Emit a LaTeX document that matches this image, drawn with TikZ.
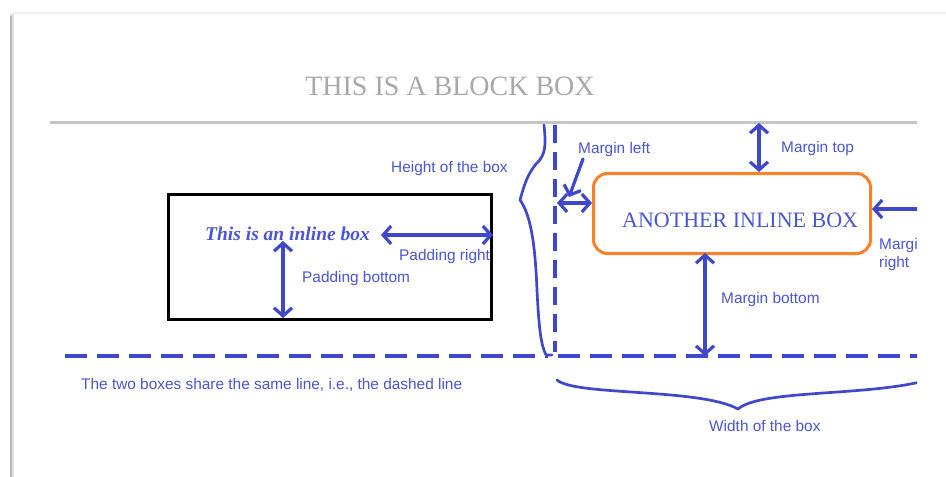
\documentclass[tikz,border=0pt]{standalone}
\usepackage{fontspec}
\setmainfont{Liberation Serif}
\newfontfamily\sansf{Liberation Sans}
\usetikzlibrary{arrows.meta}
\definecolor{lblue}{HTML}{3F48CC}
\definecolor{tblue}{HTML}{4C56D2}
\definecolor{orng}{HTML}{FF7F27}
\definecolor{ttlgray}{HTML}{A9A9A9}
\definecolor{rulegray}{HTML}{C4C4C4}
\tikzset{
  bl/.style={draw=lblue, line width=3.2pt, line cap=round, line join=round},
  dbl/.style={bl, {Straight Barb[length=8pt,width=18pt]}-{Straight Barb[length=8pt,width=18pt]}},
  sgl/.style={bl, -{Straight Barb[length=8pt,width=18pt]}},
  dsh/.style={draw=lblue, line width=3.2pt, dash pattern=on 22pt off 10pt},
  lbl/.style={text=tblue, font=\sansf\fontsize{15.4}{17}\selectfont, inner sep=0pt},
  pt/.style={inner sep=0pt, minimum size=0pt}
}
\begin{document}
\begin{tikzpicture}[x=1pt,y=-1pt]
\useasboundingbox (0,0) rectangle (946,477);
\fill[white] (0,0) rectangle (946,477);
% page shadow
\draw[line width=4pt, gray!25] (12,14) -- (12,477);
\draw[line width=1.5pt, gray!55] (11,16) -- (11,477);
\draw[line width=1.5pt, gray!12] (12,13) -- (946,13);
\begin{scope}
\clip (0,0) rectangle (917,477);
% title
\node[text=ttlgray, font=\fontsize{28}{30}\selectfont, inner sep=0pt, anchor=base] (title) at (450,95) {THIS IS A BLOCK BOX};
% block rule
\draw[line width=3pt, rulegray] (50,122) -- (917,122);
% inline box
\node[draw=black, line width=3pt, minimum width=323pt, minimum height=125pt, inner sep=0pt, anchor=north west] (ibox) at (167,193) {};
\node[text=tblue, font=\bfseries\itshape\fontsize{19.5}{21}\selectfont, inner sep=0pt, anchor=base west] (itext) at (205,240) {This is an inline box};
\coordinate (prA) at (381,235);
\coordinate (prB) at (ibox.east |- prA);
\draw[dbl] (prA) -- (prB);
\node[lbl, anchor=base west] (prl) at (399,260) {Padding right};
\coordinate (pbA) at (283,241);
\coordinate (pbB) at (283,318);
\draw[dbl] (pbA) -- (pbB);
\node[lbl, anchor=base west] (pbl) at (302,282) {Padding bottom};
% baseline dashed
\coordinate (dl1) at (65,356);
\coordinate (dl2) at (548,356);
\coordinate (dl3) at (558,356);
\coordinate (dl4) at (920,356);
\draw[dsh] (dl1) -- (dl2);
\draw[dsh] (dl3) -- (dl4);
\coordinate (vd1) at (555,125);
\coordinate (vd2) at (555,352);
\draw[draw=lblue, line width=3.2pt, dash pattern=on 18pt off 9pt] (vd1) -- (vd2);
\node[lbl, anchor=base west] (dlt) at (81,389) {The two boxes share the same line, i.e., the dashed line};
% height brace
\coordinate (hb1) at (544,125);
\coordinate (hb2) at (546,355);
\draw[bl, line width=2.7pt] (hb1) .. controls (546,145) and (546,155) .. (536,164)
  .. controls (526,176) and (523,190) .. (520,200)
  .. controls (530,214) and (535,240) .. (537,290)
  .. controls (539,330) and (541,345) .. (hb2) -- (552,355);
\node[lbl, anchor=base west] (hbl) at (391,172) {Height of the box};
% another inline box
\node[draw=orng, line width=3pt, rounded corners=14pt, minimum width=277pt, minimum height=80pt, inner sep=0pt, anchor=north west] (obox) at (592,172) {};
\node[text=tblue, font=\fontsize{22}{24}\selectfont, inner sep=0pt, anchor=base west] (otext) at (622,227) {ANOTHER INLINE BOX};
% margin left
\node[lbl, anchor=base west] (mll) at (578,153) {Margin left};
\coordinate (mlA) at (583,159);
\coordinate (mlB) at (569,197);
\draw[sgl] (mlA) -- (mlB);
\coordinate (mlC) at (557,203);
\draw[dbl] (mlC) -- (mlC -| obox.west);
% margin top
\coordinate (mtA) at (759,123);
\draw[dbl] (mtA) -- (mtA |- obox.north);
\node[lbl, anchor=base west] (mtl) at (781,152) {Margin top};
% margin right
\coordinate (mrA) at (920,209);
\draw[sgl] (mrA) -- (mrA -| obox.east);
\node[lbl, anchor=base west] (mrl1) at (879,249) {Margin};
\node[lbl, anchor=base west] (mrl2) at (879,267) {right};
% margin bottom
\coordinate (mbA) at (705,253);
\coordinate (mbB) at (705,356);
\draw[dbl] (mbA) -- (mbB);
\node[lbl, anchor=base west] (mbl) at (721,303) {Margin bottom};
% width brace
\coordinate (wb1) at (557,380);
\coordinate (wb2) at (738,409);
\coordinate (wb3) at (920,382);
\draw[bl, line width=2.7pt] (wb1) .. controls (575,396) and (700,388) .. (wb2)
  .. controls (760,390) and (860,396) .. (wb3);
\node[lbl, anchor=base west] (wbl) at (709,431) {Width of the box};
\end{scope}
\end{tikzpicture}
\end{document}
